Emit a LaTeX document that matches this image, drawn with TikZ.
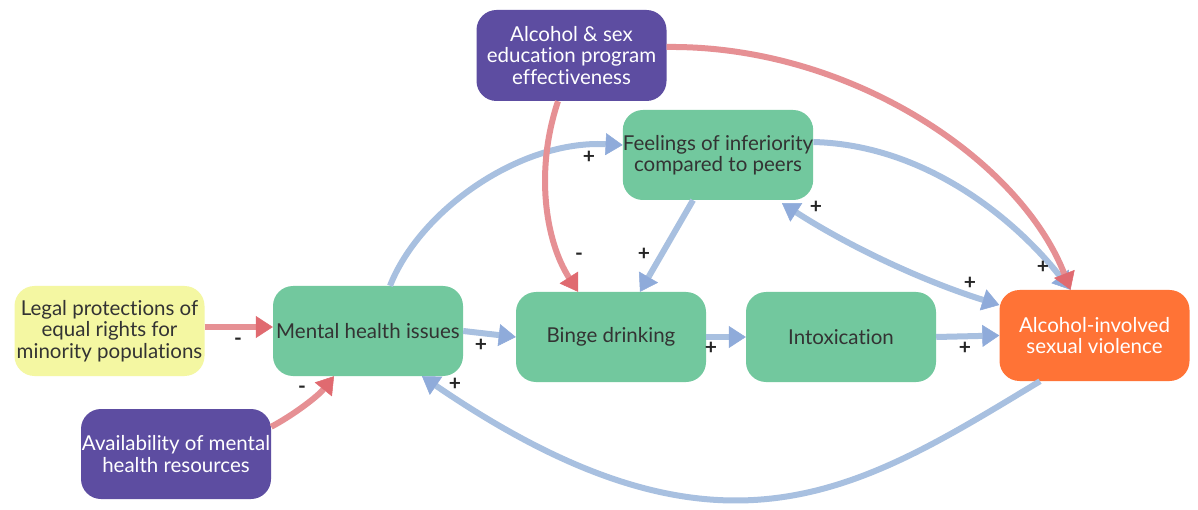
\documentclass[tikz,border=0pt]{standalone}
\usepackage{fontspec}
\setmainfont[Ligatures=NoCommon]{Lato}
\usetikzlibrary{arrows.meta,calc}
\definecolor{cgreen}{HTML}{72C89E}
\definecolor{cyellow}{HTML}{F4F7A2}
\definecolor{cpurple}{HTML}{5D4DA1}
\definecolor{corange}{HTML}{FF7336}
\definecolor{cblue}{HTML}{A8C0E0}
\definecolor{cbluetip}{HTML}{8FABDA}
\definecolor{cred}{HTML}{E69094}
\definecolor{credtip}{HTML}{E06A70}
\definecolor{ctext}{HTML}{333333}
\tikzset{
  box/.style={rounded corners=20pt, minimum width=190pt, minimum height=90pt, inner sep=0pt, align=center, font=\fontsize{20.5}{21.5}\selectfont},
  greenbox/.style={box, fill=cgreen, text=ctext},
  yellowbox/.style={box, fill=cyellow, text=ctext},
  purplebox/.style={box, fill=cpurple, text=white},
  orangebox/.style={box, fill=corange, text=white},
  blueedge/.style={draw=cblue, line width=6pt, -{Triangle[length=17pt,width=22pt,color=cbluetip,line width=0.5pt]}},
  bluedouble/.style={draw=cblue, line width=6pt, {Triangle[length=17pt,width=22pt,color=cbluetip,line width=0.5pt]}-{Triangle[length=17pt,width=22pt,color=cbluetip,line width=0.5pt]}},
  rededge/.style={draw=cred, line width=6pt, -{Triangle[length=17pt,width=22pt,color=credtip,line width=0.5pt]}},
  sign/.style={font=\bfseries\fontsize{21}{21}\selectfont, text=black!85, inner sep=0pt}
}
\begin{document}
\begin{tikzpicture}[x=1pt,y=1pt]
\useasboundingbox[fill=white] (0,0) rectangle (1198,-510);
% nodes
\node[yellowbox] (legal) at (109.5,-331) {Legal protections of\\equal rights for\\minority populations};
\node[greenbox] (mental) at (368,-331) {Mental health issues};
\node[purplebox] (avail) at (176,-454) {Availability of mental\\health resources};
\node[purplebox, minimum height=91pt] (alcsex) at (571.5,-55.5) {Alcohol \& sex\\education program\\effectiveness};
\node[greenbox] (feel) at (718,-155) {Feelings of inferiority\\compared to peers};
\node[greenbox] (binge) at (611,-337) {Binge drinking};
\node[greenbox] (intox) at (841,-337) {Intoxication};
\node[orangebox, minimum height=91pt] (aiv) at (1094.5,-335.5) {Alcohol-involved\\sexual violence};
% blue edges
\draw[blueedge] (mental.east) -- (binge.west);
\draw[blueedge] (binge.east) -- (intox.west);
\draw[blueedge] (intox.east) -- (aiv.west);
\draw[blueedge] ([xshift=22pt]mental.north) .. controls (420,-210) and (520,-140) .. ([yshift=10pt]feel.west);
\draw[blueedge] ([xshift=-25pt]feel.south) -- ([xshift=29pt]binge.north);
\draw[bluedouble] ([xshift=64pt,yshift=-3pt]feel.south) .. controls (850,-247) and (923,-281) .. ([yshift=30.5pt]aiv.west);
\draw[blueedge] ([yshift=13pt]feel.east) .. controls (930,-145) and (1020,-225) .. ([xshift=-24pt]aiv.north);
\draw[blueedge] ([xshift=-54.5pt]aiv.south) .. controls (858,-491) and (722,-581) .. ([xshift=54pt]mental.south);
% red edges
\draw[rededge] ([yshift=4pt]legal.east) -- ([yshift=4pt]mental.west);
\draw[rededge] ([yshift=-18pt]avail.north east) .. controls (295,-414) and (318,-396) .. ([xshift=-34pt]mental.south);
\draw[rededge] ([yshift=8.5pt]alcsex.east) .. controls (850,-45) and (1020,-160) .. ([xshift=-24pt]aiv.north);
\draw[rededge] ([xshift=-13.5pt]alcsex.south) .. controls (535,-170) and (545,-240) .. ([xshift=-33pt]binge.north);
% signs
\node[sign] (s1) at (238,-342) {-};
\node[sign] (s2) at (302,-390) {-};
\node[sign] (s3) at (481,-345) {+};
\node[sign] (s4) at (711,-348) {+};
\node[sign] (s5) at (965,-348) {+};
\node[sign] (s6) at (589,-157) {+};
\node[sign] (s7) at (644,-254) {+};
\node[sign] (s8) at (816,-207) {+};
\node[sign] (s9) at (970,-283) {+};
\node[sign] (s10) at (1043,-267) {+};
\node[sign] (s11) at (579,-257) {-};
\node[sign] (s12) at (455,-384) {+};
\end{tikzpicture}
\end{document}
